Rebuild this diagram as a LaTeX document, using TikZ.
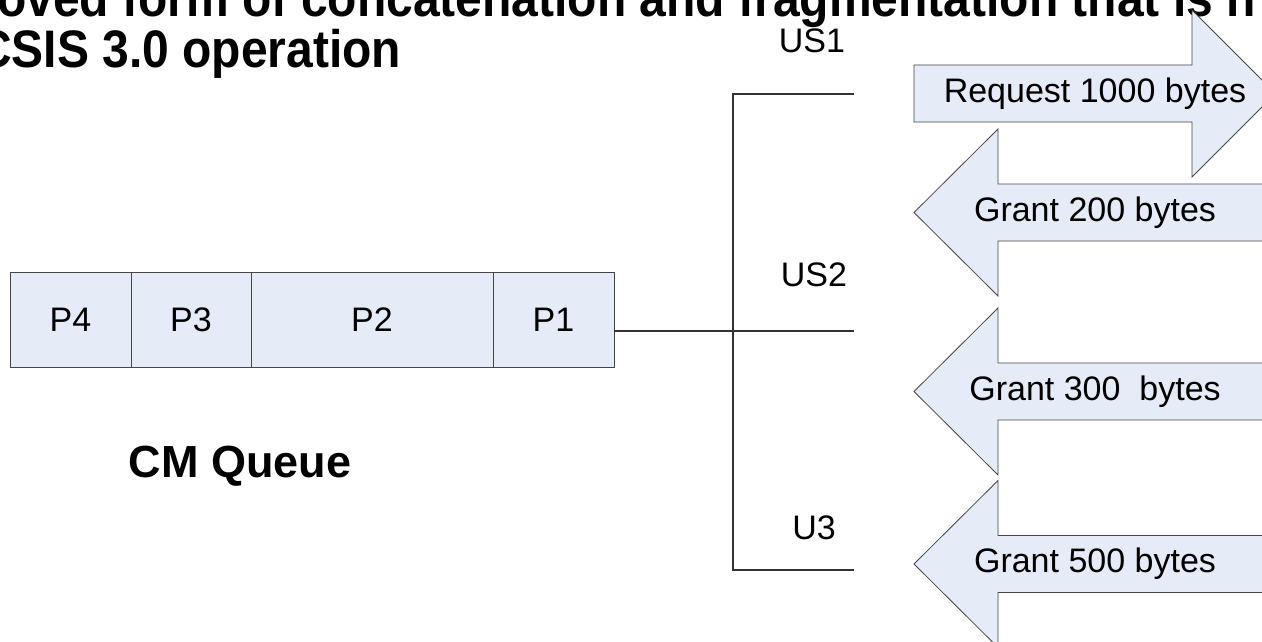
\documentclass[tikz,border=0pt]{standalone}
\usepackage{fontspec}
\setmainfont{Liberation Sans}
\definecolor{qfill}{RGB}{230,236,247}
\definecolor{qline}{RGB}{70,70,70}
\tikzset{
  pbox/.style={draw=qline, fill=qfill, line width=0.9pt, inner sep=0pt, minimum height=95pt, font=\fontsize{34}{40}\selectfont},
  arrowshape/.style={draw=qline, fill=qfill, line width=0.8pt, line join=miter},
  wire/.style={draw=black!80, line width=1.1pt},
  lbl/.style={inner sep=0pt, font=\fontsize{34}{40}\selectfont},
  ttl/.style={inner sep=0pt, font=\fontsize{48}{50}\selectfont\bfseries},
}
\begin{document}
\begin{tikzpicture}[x=1pt, y=-1pt]
\useasboundingbox (0,0) rectangle (1262,642);
\clip (0,0) rectangle (1262,642);
% title (cut by the frame)
\node[ttl, anchor=base west] (t1) at (-3,17) {\scalebox{1}[1.1]{oved form of concatenation and fragmentation that is n}};
\node[ttl, anchor=base west] (t2) at (-23,67) {\scalebox{1}[1.1]{CSIS 3.0 operation}};
% queue
\node[pbox, minimum width=121pt] (p4) at (70.5,319.5) {P4};
\node[pbox, minimum width=120pt] (p3) at (191,319.5) {P3};
\node[pbox, minimum width=242pt] (p2) at (372,319.5) {P2};
\node[pbox, minimum width=121pt] (p1) at (553.5,319.5) {P1};
\node[inner sep=0pt, font=\fontsize{45}{50}\selectfont\bfseries, anchor=base] (cmq) at (240,477) {CM Queue};
% bus
\coordinate (jn) at (733,331);
\coordinate (vt) at (733,94);
\coordinate (vb) at (733,570);
\coordinate (e1) at (854,94);
\coordinate (e2) at (854,331);
\coordinate (e3) at (854,570);
\draw[wire] (p1.east |- jn) -- (jn) -- (e2);
\draw[wire] (e1) -- (vt) -- (vb) -- (e3);
\node[lbl, anchor=base] (us1) at (812,53) {US1};
\node[lbl, anchor=base] (us2) at (814,286) {US2};
\node[lbl, anchor=base] (u3) at (814,539) {U3};
% request arrow
\draw[arrowshape] (914,65) -- (1192,65) -- (1192,10) -- (1275.5,93.5) -- (1192,177) -- (1192,122) -- (914,122) -- cycle;
\node[lbl] (req) at (1095,93.5) {Request 1000 bytes};
% grant arrows
\foreach \c/\nm/\t in {212.5/g2/{Grant 200 bytes}, 391.5/g3/{Grant 300\ \ bytes}, 564/g5/{Grant 500 bytes}}{
  \draw[arrowshape] (914,\c) -- (998,\c-83.5) -- (998,\c-28.5) -- (1300,\c-28.5) -- (1300,\c+28.5) -- (998,\c+28.5) -- (998,\c+83.5) -- cycle;
  \node[lbl] (\nm) at (1095,\c) {\t};
}
\end{tikzpicture}
\end{document}
